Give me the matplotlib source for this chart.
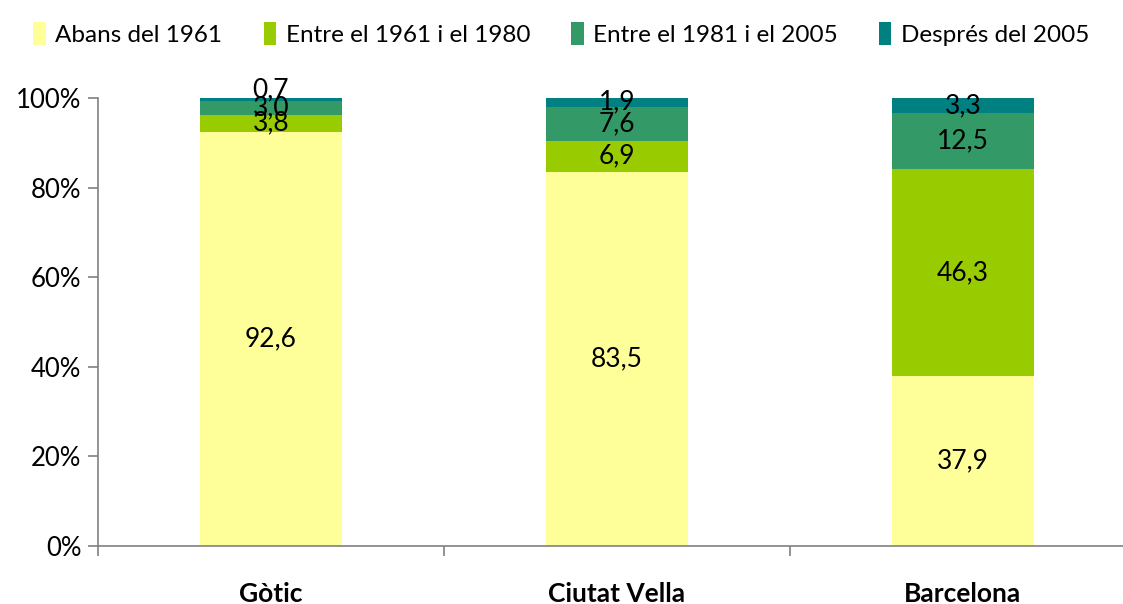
import numpy as np
import matplotlib
matplotlib.use("Agg")
import matplotlib.pyplot as plt
from matplotlib.ticker import PercentFormatter

plt.rcParams['font.family'] = ['Lato', 'DejaVu Sans']

categories = ["Gòtic", "Ciutat Vella", "Barcelona"]
series_names = ["Abans del 1961", "Entre el 1961 i el 1980",
                "Entre el 1981 i el 2005", "Després del 2005"]
abans_1961 = [92.6, 83.5, 37.9]
entre_1961_1980 = [3.8, 6.9, 46.3]
entre_1981_2005 = [3.0, 7.6, 12.5]
despres_2005 = [0.7, 1.9, 3.3]
colors = ["#FFFF99", "#99CC00", "#339966", "#008080"]

data = np.array([abans_1961, entre_1961_1980, entre_1981_2005, despres_2005])
# 100% stacked, like the spreadsheet does
pct = data / data.sum(axis=0) * 100

fig = plt.figure(figsize=(11.23, 6.04), dpi=100)
ax = fig.add_axes([98/1123, 58/604, 1038/1123, 448/604])

x = np.arange(len(categories))
bottom = np.zeros(len(categories))
for i in range(len(series_names)):
    ax.bar(x, pct[i], bottom=bottom, width=0.41, color=colors[i],
           label=series_names[i], zorder=2)
    for j in range(len(categories)):
        yc = bottom[j] + pct[i][j]/2
        off = 0
        if pct[i][j] < 1.5:
            off = 7
        ax.annotate(f"{data[i][j]:.1f}".replace(".", ","), (x[j], yc),
                    xytext=(0, off), textcoords="offset points",
                    ha="center", va="center", fontsize=19, color="black",
                    zorder=3)
    bottom += pct[i]

ax.set_xlim(-0.5, 2.5)
ax.set_ylim(0, 100)
ax.yaxis.set_major_formatter(PercentFormatter(decimals=0))
ax.set_yticks(np.arange(0, 101, 20))
ax.tick_params(axis="y", labelsize=18.5, length=7, color="#808080", width=1.2, pad=5)
ax.set_xticks(x)
ax.set_xticklabels(categories, fontsize=19, fontweight="bold")
ax.set_xticks([-0.5, 0.5, 1.5, 2.5], minor=True)
ax.tick_params(axis="x", which="major", length=0, pad=26)
ax.tick_params(axis="x", which="minor", length=7, color="#808080", width=1.2)
for s in ["top", "right"]:
    ax.spines[s].set_visible(False)
for s in ["left", "bottom"]:
    ax.spines[s].set_color("#808080")
    ax.spines[s].set_linewidth(1.2)

fig.legend(loc="upper center", bbox_to_anchor=(0.5, 1.0), ncol=4, frameon=False,
           fontsize=17.5, handlelength=0.5, handleheight=1.1, handletextpad=0.4,
           columnspacing=1.7)

fig.savefig("out.png", dpi=100)
